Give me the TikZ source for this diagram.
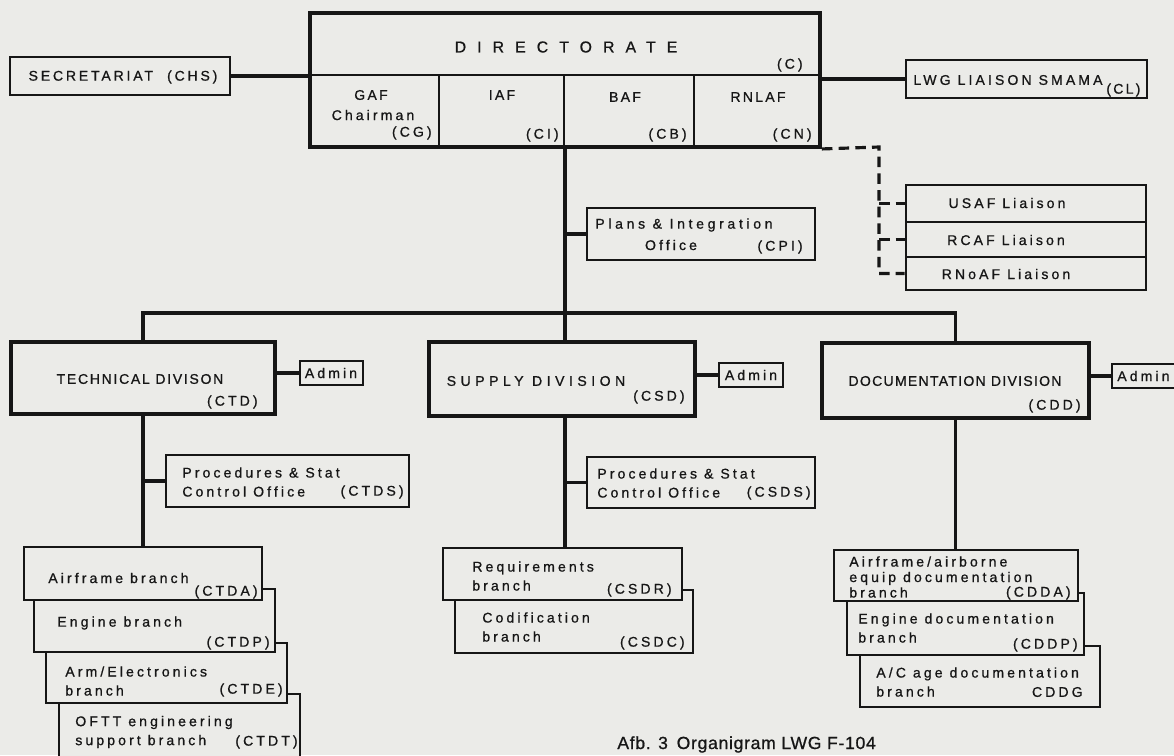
\documentclass[tikz,border=0pt]{standalone}
\usepackage{fontspec}
\setmainfont{Liberation Sans}[LetterSpace=22,FakeBold=0.8]
\usepackage{tikz}
\usetikzlibrary{%
  fit%
}

\definecolor{paper}{RGB}{235,235,232}
\definecolor{ink}{RGB}{22,22,22}
\newcommand{\orgfont}{\fontsize{8}{10.8}\selectfont}
\newcommand{\capsfont}{\fontsize{8}{10.8}\selectfont\addfontfeatures{LetterSpace=16}}

\tikzset{
  orgbox/.style={draw=ink,line width=1.5pt,fill=paper,inner sep=0pt},
  divbox/.style={orgbox,line width=2pt},
  cellbox/.style={draw=ink,line width=1.1pt,inner sep=0pt},
  conn/.style={draw=ink,line width=2.1pt},
  liaisonline/.style={draw=ink,line width=1.8pt,dash pattern=on 6pt off 3.5pt},
  lbl/.style={inner sep=0pt,text=ink,font=\orgfont,align=left},
  caplbl/.style={lbl,font=\capsfont},
  code/.style={lbl,anchor=east}
}

\begin{document}
\begin{tikzpicture}[x=0.02cm,y=-0.02cm]
      \fill [paper] (0,0) rectangle (1174,755);
      \useasboundingbox (0,0) rectangle (1174,755);

      \node [cellbox,fit={(310,13) (820,75)}] (dir) {};
      \node [cellbox,fit={(310,75) (439,147)}] (gaf) {};
      \node [cellbox,fit={(439,75) (564,147)}] (iaf) {};
      \node [cellbox,fit={(564,75) (694,147)}] (baf) {};
      \node [cellbox,fit={(694,75) (820,147)}] (rnlaf) {};
      \node [draw=ink,line width=2.2pt,inner sep=0pt,fit={(310,13) (820,147)}] (directorate) {};
      \node [lbl,font=\fontsize{9}{11}\selectfont\addfontfeatures{LetterSpace=70}] (dirtxt) at (566,47) {DIRECTORATE};
      \node [code] (dircode) at (803,65) {(C)};
      \node [caplbl] (gaftxt) at (371,95) {GAF};
      \node [lbl] (chairtxt) at (373,115) {Chairman};
      \node [code] (gafcode) at (432,133) {(CG)};
      \node [caplbl] (iaftxt) at (502,95) {IAF};
      \node [code] (iafcode) at (559,135) {(CI)};
      \node [caplbl] (baftxt) at (625,97) {BAF};
      \node [code] (bafcode) at (687,135) {(CB)};
      \node [caplbl] (rnlaftxt) at (758,97) {RNLAF};
      \node [code] (rnlafcode) at (812,135) {(CN)};

      \node [orgbox,fit={(10,57) (230,95)}] (chs) {};
      \node [caplbl,font=\capsfont\addfontfeatures{LetterSpace=20}] (chstxt) at (123,77) {SECRETARIAT\quad(CHS)};
      \node [orgbox,fit={(906,60) (1147,98)}] (lwg) {};
      \node [caplbl,font=\capsfont\addfontfeatures{LetterSpace=22}] (lwgtxt) at (1008,80) {LWG LIAISON SMAMA};
      \node [caplbl,anchor=west] (lwgcode) at (1106,90) {(CL)};

      \node [orgbox,fit={(906,185) (1146,222)}] (usaf) {};
      \node [orgbox,fit={(906,222) (1146,257)}] (rcaf) {};
      \node [orgbox,fit={(906,257) (1146,290)}] (rnoaf) {};
      \node [lbl] (usaftxt) at (1007,203) {USAF Liaison};
      \node [lbl] (rcaftxt) at (1006,240) {RCAF Liaison};
      \node [lbl] (rnoaftxt) at (1006,274) {RNoAF Liaison};

      \node [orgbox,fit={(587,208) (815,260)}] (cpi) {};
      \node [lbl,anchor=west,font=\orgfont\addfontfeatures{LetterSpace=26}] (cpitxt) at (595,225) {Plans \& Integration};
      \node [lbl] (cpitxtb) at (671,245) {Office};
      \node [code] (cpicode) at (803,247) {(CPI)};

      \node [divbox,fit={(11,342) (275,414)}] (ctd) {};
      \node [caplbl,font=\capsfont\addfontfeatures{LetterSpace=12}] (ctdtxt) at (140,379) {TECHNICAL DIVISON};
      \node [code] (ctdcode) at (258,402) {(CTD)};
      \node [divbox,fit={(429,342) (695,416)}] (csd) {};
      \node [caplbl,font=\capsfont\addfontfeatures{LetterSpace=32}] (csdtxt) at (536,381) {SUPPLY DIVISION};
      \node [code] (csdcode) at (685,397) {(CSD)};
      \node [divbox,fit={(822,343) (1089,418)}] (cdd) {};
      \node [caplbl,font=\capsfont\addfontfeatures{LetterSpace=9}] (cddtxt) at (955,381) {DOCUMENTATION DIVISION};
      \node [code] (cddcode) at (1081,406) {(CDD)};

      \node [orgbox,fit={(300,361) (363,385)}] (admtd) {};
      \node [lbl] (admtdtxt) at (331,373) {Admin};
      \node [orgbox,fit={(719,363) (783,387)}] (admsd) {};
      \node [lbl] (admsdtxt) at (751,375) {Admin};
      \node [orgbox,fit={(1112,364) (1190,388)}] (admdd) {};
      \node [lbl,anchor=west] (admddtxt) at (1117,376) {Admin};

      \node [orgbox,fit={(166,455) (409,507)}] (ctds) {};
      \node [lbl,anchor=west] (ctdstxt) at (182,482) {Procedures \& Stat\\Control Office};
      \node [code] (ctdscode) at (404,492) {(CTDS)};
      \node [orgbox,fit={(587,457) (815,508)}] (csds) {};
      \node [lbl,anchor=west] (csdstxt) at (597,483) {Procedures \& Stat\\Control Office};
      \node [code] (csdscode) at (811,493) {(CSDS)};

      \node [orgbox,fit={(59,694) (300,770)}] (ctdt) {};
      \node [lbl,anchor=west] (ctdttxt) at (75,732) {OFTT engineering\\support branch};
      \node [code] (ctdtcode) at (298,742) {(CTDT)};
      \node [orgbox,fit={(46,643) (287,703)}] (ctde) {};
      \node [lbl,anchor=west] (ctdetxt) at (65,681) {Arm/Electronics\\branch};
      \node [code] (ctdecode) at (283,690) {(CTDE)};
      \node [orgbox,fit={(34,589) (275,652)}] (ctdp) {};
      \node [lbl,anchor=west] (ctdptxt) at (57,623) {Engine\enspace branch};
      \node [code] (ctdpcode) at (270,643) {(CTDP)};
      \node [orgbox,fit={(24,547) (262,600)}] (ctda) {};
      \node [lbl,anchor=west] (ctdatxt) at (48,578) {Airframe branch};
      \node [code] (ctdacode) at (258,592) {(CTDA)};

      \node [orgbox,fit={(455,590) (693,653)}] (csdc) {};
      \node [lbl,anchor=west] (csdctxt) at (482,627) {Codification\\branch};
      \node [code] (csdccode) at (685,643) {(CSDC)};
      \node [orgbox,fit={(443,548) (682,600)}] (csdr) {};
      \node [lbl,anchor=west] (csdrtxt) at (472,576) {Requirements\\branch};
      \node [code] (csdrcode) at (672,590) {(CSDR)};

      \node [orgbox,fit={(860,646) (1100,707)}] (cddg) {};
      \node [lbl,anchor=west] (cddgtxt) at (876,682) {A/C age documentation\\branch};
      \node [code] (cddgcode) at (1083,692) {CDDG};
      \node [orgbox,fit={(847,593) (1084,655)}] (cddp) {};
      \node [lbl,anchor=west] (cddptxt) at (858,628) {Engine\enspace documentation\\branch};
      \node [code] (cddpcode) at (1078,645) {(CDDP)};
      \node [orgbox,fit={(834,550) (1078,601)}] (cdda) {};
      \node [lbl,anchor=west,font=\fontsize{8}{8.8}\selectfont] (cddatxt) at (849,577) {Airframe/airborne\\equip documentation\\branch};
      \node [code] (cddacode) at (1071,593) {(CDDA)};

      \draw [conn] (chs.east) -- (chs.east -| directorate.west);
      \draw [conn] (directorate.east |- lwg.west) -- (lwg.west);
      \coordinate (dashcorner) at (879,147);
      \draw [liaisonline] (directorate.south east) -- (dashcorner) |- (rnoaf.west);
      \draw [liaisonline] (dashcorner |- usaf.west) -- (usaf.west);
      \draw [liaisonline] (dashcorner |- rcaf.west) -- (rcaf.west);

      \draw [conn] (iaf.south east) -- (iaf.south east |- csd.north);
      \draw [conn] (iaf.south east |- cpi.west) -- (cpi.west);
      \draw [conn] (ctd.north) -- ++(0,-27) -| (cdd.north);

      \draw [conn] (ctd.east |- admtd.west) -- (admtd.west);
      \draw [conn] (csd.east |- admsd.west) -- (admsd.west);
      \draw [conn] (cdd.east |- admdd.west) -- (admdd.west);

      \draw [conn] (ctd.south) -- (ctd.south |- ctda.north);
      \draw [conn] (ctd.south |- ctds.west) -- (ctds.west);
      \draw [conn] (iaf.south east |- csd.south) -- (iaf.south east |- csdr.north);
      \draw [conn] (iaf.south east |- csds.west) -- (csds.west);
      \draw [conn] (cdd.south) -- (cdd.south |- cdda.north);

      \node [lbl,anchor=base west,font=\fontsize{10}{12}\selectfont\addfontfeatures{LetterSpace=4}] (caption) at (617,749) {Afb. 3\enspace Organigram LWG F-104};
\end{tikzpicture}
\end{document}
